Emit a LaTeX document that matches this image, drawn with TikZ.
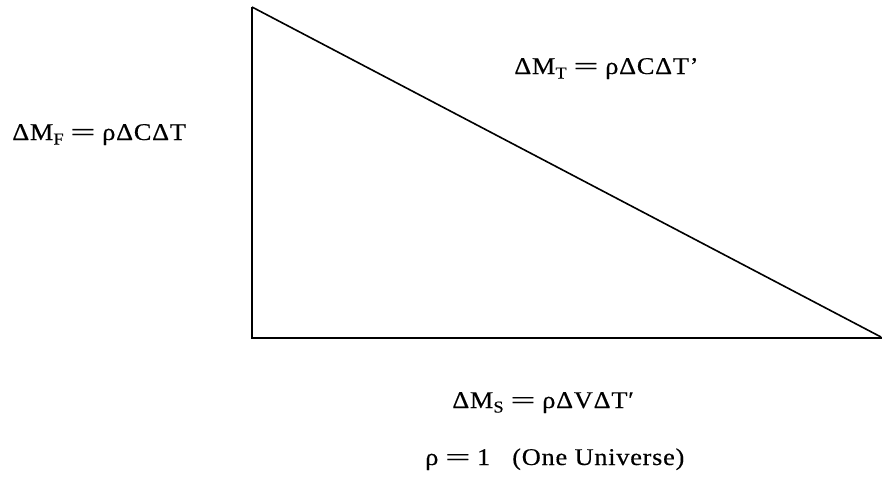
\documentclass[tikz,border=0pt]{standalone}
\usepackage{fontspec}
\usepackage{graphicx}
\setmainfont{Liberation Serif}[FakeStretch=1.1,LetterSpace=3,FakeBold=0.3]
\newcommand\lowsub[1]{\raisebox{-3.4pt}{\fontsize{12.5}{14}\selectfont #1}}
\newcommand\eqs{\hspace{5pt}\scalebox{1.7}[1]{=}\hspace{5pt}}
\begin{document}
\begin{tikzpicture}[x=0.75pt,y=-0.75pt,
  lbl/.style={anchor=base west,inner sep=0pt,font=\fontsize{18}{21}\selectfont},
  edge/.style={line width=1.5pt}]
\useasboundingbox (0,0) rectangle (882,486);
\coordinate (A) at (252,7);
\coordinate (B) at (252,338);
\coordinate (C) at (881,337);
\coordinate (D) at (882,338);
\draw[edge] (A) -- (B) -- (D);
\draw[edge,line width=1.2pt] (A) -- (C);
\node[lbl] (mf) at (12,140) {ΔM\lowsub{F}\eqs ρΔCΔT};
\node[lbl] (mt) at (514,74) {ΔM\lowsub{T}\eqs ρΔCΔT’};
\node[lbl] (ms) at (452,408) {ΔM\lowsub{S}\eqs ρΔVΔT′};
\node[lbl] (rho) at (425,465) {ρ\eqs 1};
\node[lbl] (one) at (512,465) {(One Universe)};
\end{tikzpicture}
\end{document}
